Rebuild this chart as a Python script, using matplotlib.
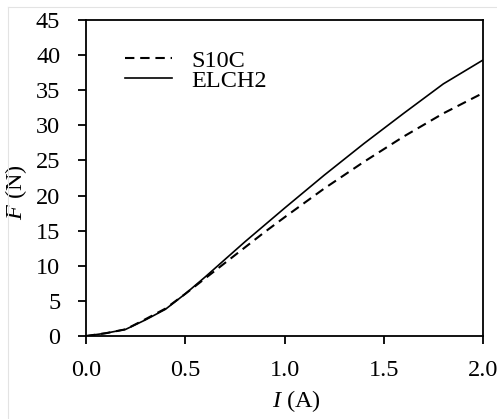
import matplotlib
matplotlib.use("Agg")
import matplotlib.pyplot as plt
from matplotlib.lines import Line2D

# force vs. current for the two core materials
current = [0.0, 0.1, 0.2, 0.3, 0.4, 0.5, 0.6, 0.7, 0.8, 0.9, 1.0, 1.2, 1.4, 1.6, 1.8, 2.0]
force_s10c = [0.0, 0.4, 0.95, 2.4, 3.9, 6.0, 8.2, 10.4, 12.6, 14.8, 16.9, 21.0, 24.8, 28.4, 31.7, 34.6]
force_elch2 = [0.0, 0.4, 0.95, 2.3, 3.8, 6.0, 8.4, 10.9, 13.4, 15.8, 18.2, 22.9, 27.4, 31.7, 35.9, 39.3]

x_ticks = [0.0, 0.5, 1.0, 1.5, 2.0]
y_ticks = [0, 5, 10, 15, 20, 25, 30, 35, 40, 45]

FS = 17.5

plt.rcParams["font.family"] = "Liberation Serif"
plt.rcParams["mathtext.fontset"] = "custom"
plt.rcParams["mathtext.it"] = "Liberation Serif:italic"
plt.rcParams["mathtext.rm"] = "Liberation Serif"
plt.rcParams["font.size"] = FS

fig = plt.figure(figsize=(4.97, 4.19), dpi=100)
ax = fig.add_axes([86 / 497, 83 / 419, 397 / 497, 316 / 419])

ax.plot(current, force_s10c, color="black", linewidth=1.5, dashes=(4.5, 2.8), label="S10C")
ax.plot(current, force_elch2, color="black", linewidth=1.2, label="ELCH2")

ax.set_xlim(0, 2.0)
ax.set_ylim(0, 45)
ax.set_xticks(x_ticks)
ax.set_xticklabels(["%.1f" % t for t in x_ticks])
ax.set_yticks(y_ticks)

for s in ax.spines.values():
    s.set_linewidth(1.3)
ax.tick_params(direction="out", length=5.5, width=1.3, labelsize=FS)
ax.tick_params(axis="y", pad=13)
ax.tick_params(axis="x", pad=12)

ax.set_xlabel("$I$ (A)", fontsize=FS)
ax.xaxis.set_label_coords(0.529, -0.206)
ax.xaxis.label.set_va("center")
ax.set_ylabel("$F$ (N)", fontsize=FS)
ax.yaxis.set_label_coords(-0.176, 0.456)
ax.yaxis.label.set_va("center")

ax.legend(loc="upper left", bbox_to_anchor=(0.098, 0.906), frameon=False,
          handlelength=1.95, handletextpad=0.8, labelspacing=-0.08,
          borderaxespad=0.0, borderpad=0.0, fontsize=FS)

# thin grey frame round the figure
fig.add_artist(Line2D([8 / 497, 8 / 497], [0, 1 - 7 / 419], color="#e3e3e3", linewidth=0.8))
fig.add_artist(Line2D([8 / 497, 1], [1 - 7 / 419, 1 - 7 / 419], color="#e3e3e3", linewidth=0.8))

fig.savefig("out.png", dpi=100)
